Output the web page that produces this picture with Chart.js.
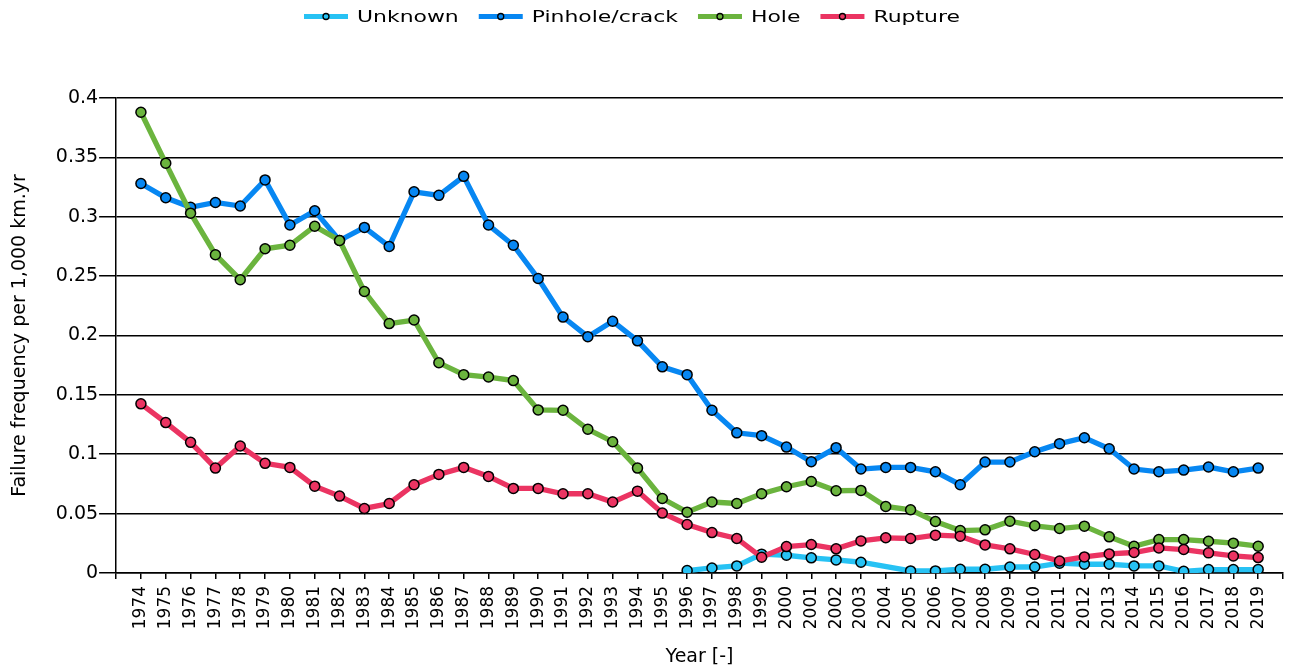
<!DOCTYPE html>
<html>
<head>
<meta charset="utf-8">
<script src="https://cdn.jsdelivr.net/npm/chart.js"></script>
<style>
html, body { margin: 0; padding: 0; background: #fff; }
#contenedor { width: 1292px; height: 668px; }
</style>
</head>
<body>
<div id="contenedor"><canvas id="grafica"></canvas></div>
<script>
// Datos
const years = [1974, 1975, 1976, 1977, 1978, 1979, 1980, 1981, 1982, 1983, 1984, 1985,
    1986, 1987, 1988, 1989, 1990, 1991, 1992, 1993, 1994, 1995, 1996, 1997, 1998, 1999,
    2000, 2001, 2002, 2003, 2004, 2005, 2006, 2007, 2008, 2009, 2010, 2011, 2012, 2013,
    2014, 2015, 2016, 2017, 2018, 2019];

const unknown = [null, null, null, null, null, null, null, null, null, null, null, null,
    null, null, null, null, null, null, null, null, null, null, 0.002, 0.0042, 0.0059, 0.0158,
    0.0149, 0.0127, 0.011, 0.009, null, 0.0017, 0.0017, 0.0031, 0.0031, 0.005, 0.005, 0.0082, 0.0073, 0.0073,
    0.0059, 0.0059, 0.0014, 0.0028, 0.0028, 0.0028];

const pinhole = [0.328, 0.316, 0.308, 0.312, 0.309, 0.331, 0.293, 0.305, 0.280, 0.291, 0.275, 0.321,
    0.318, 0.334, 0.293, 0.276, 0.248, 0.2155, 0.199, 0.212, 0.1955, 0.1736, 0.167, 0.137, 0.118, 0.1156,
    0.106, 0.0937, 0.1055, 0.0875, 0.0889, 0.0889, 0.0852, 0.0743, 0.0934, 0.0934, 0.1021, 0.1089, 0.1139, 0.1046,
    0.0875, 0.0852, 0.0866, 0.0892, 0.0852, 0.0883];

const hole = [0.388, 0.345, 0.303, 0.268, 0.247, 0.273, 0.276, 0.292, 0.280, 0.237, 0.210, 0.213,
    0.177, 0.167, 0.165, 0.162, 0.1373, 0.137, 0.121, 0.1105, 0.0883, 0.0627, 0.0512, 0.0597, 0.0585, 0.0667,
    0.0726, 0.077, 0.0692, 0.0695, 0.056, 0.0532, 0.0433, 0.0357, 0.0363, 0.0436, 0.0397, 0.0374, 0.0394, 0.0304,
    0.0225, 0.0281, 0.0281, 0.0267, 0.0251, 0.0225];

const rupture = [0.1424, 0.1266, 0.110, 0.0883, 0.1069, 0.0923, 0.0889, 0.0731, 0.0647, 0.0543, 0.0585, 0.0743,
    0.083, 0.0889, 0.0813, 0.0712, 0.0712, 0.0667, 0.0667, 0.0597, 0.0689, 0.0504, 0.0408, 0.034, 0.029, 0.0132,
    0.0222, 0.0239, 0.0203, 0.027, 0.0296, 0.029, 0.0318, 0.031, 0.0236, 0.0203, 0.0155, 0.0101, 0.0135, 0.016,
    0.0172, 0.0211, 0.0197, 0.0169, 0.0143, 0.0129];

const yTicks = [0, 0.05, 0.1, 0.15, 0.2, 0.25, 0.3, 0.35, 0.4];
const xTicks = [1973].concat(years, [2020]);

const puntos = serie => years.map((y, i) => ({ x: y, y: serie[i] }));

function serie(label, valores, color, orden) {
    return {
        label: label,
        data: puntos(valores),
        borderColor: color,
        backgroundColor: color,
        borderWidth: 5.3,
        pointRadius: 5,
        pointHoverRadius: 5,
        pointBorderColor: '#000',
        pointBorderWidth: 1.5,
        pointBackgroundColor: color,
        tension: 0,
        spanGaps: true,
        order: orden
    };
}

// Leyenda propia: linea con punto y texto ensanchado
const leyendaPlugin = {
    id: 'leyenda',
    afterDraw(chart) {
        const ctx = chart.ctx;
        const sets = chart.data.datasets;
        const stretch = 1.37, lineW = 44, gap = 9, sep = 20;
        ctx.save();
        ctx.font = '16px "DejaVu Sans"';
        const anchos = sets.map(ds => lineW + gap + ctx.measureText(ds.label).width * stretch);
        const total = anchos.reduce((a, b) => a + b, 0) + sep * (sets.length - 1);
        let x = 632 - total / 2;
        const y = 16.5;
        sets.forEach((ds, i) => {
            ctx.strokeStyle = ds.borderColor;
            ctx.lineWidth = 5;
            ctx.lineCap = 'butt';
            ctx.beginPath();
            ctx.moveTo(x, y);
            ctx.lineTo(x + lineW, y);
            ctx.stroke();
            ctx.beginPath();
            ctx.arc(x + lineW / 2, y, 3, 0, Math.PI * 2);
            ctx.fillStyle = ds.borderColor;
            ctx.fill();
            ctx.lineWidth = 1.3;
            ctx.strokeStyle = '#000';
            ctx.stroke();
            ctx.save();
            ctx.translate(x + lineW + gap, 22);
            ctx.scale(stretch, 1);
            ctx.fillStyle = '#000';
            ctx.textBaseline = 'alphabetic';
            ctx.fillText(ds.label, 0, 0);
            ctx.restore();
            x += anchos[i] + sep;
        });
        ctx.restore();
    }
};

Chart.defaults.font.family = '"DejaVu Sans", Verdana, sans-serif';
Chart.defaults.color = '#000';

new Chart(document.getElementById('grafica'), {
    type: 'line',
    data: {
        datasets: [
            serie('Unknown', unknown, '#27c2f4', 3),
            serie('Pinhole/crack', pinhole, '#0787f2', 2),
            serie('Hole', hole, '#6bb43e', 1),
            serie('Rupture', rupture, '#eb3462', 0)
        ]
    },
    options: {
        responsive: true,
        maintainAspectRatio: false,
        animation: false,
        layout: { padding: { top: 98, right: 9, left: 0, bottom: 0 } },
        plugins: {
            legend: { display: false },
            tooltip: { enabled: false }
        },
        scales: {
            x: {
                type: 'linear',
                min: 1973,
                max: 2020,
                afterBuildTicks: axis => { axis.ticks = xTicks.map(v => ({ value: v })); },
                afterFit: axis => { axis.paddingRight = 0; axis.paddingLeft = 0; },
                ticks: {
                    autoSkip: false,
                    minRotation: 90,
                    maxRotation: 90,
                    padding: 7,
                    font: { size: 17 },
                    callback: v => (v === 1973 || v === 2020) ? '' : String(v)
                },
                grid: { drawOnChartArea: false, tickLength: 6, color: '#000', lineWidth: 1.5 },
                border: { color: '#000', width: 1.5 },
                title: { display: true, text: 'Year [-]', font: { size: 19 }, padding: { top: 9, bottom: 0 } }
            },
            y: {
                min: 0,
                max: 0.4,
                afterBuildTicks: axis => { axis.ticks = yTicks.map(v => ({ value: v })); },
                ticks: {
                    padding: 1,
                    font: { size: 19 },
                    callback: v => String(+v.toFixed(2))
                },
                grid: { color: '#000', lineWidth: 1.5, tickLength: 17 },
                border: { color: '#000', width: 1.5 },
                title: { display: true, text: 'Failure frequency per 1,000 km.yr', font: { size: 19 }, padding: { top: 9, bottom: 23 } }
            }
        }
    },
    plugins: [leyendaPlugin]
});
</script>
</body>
</html>
